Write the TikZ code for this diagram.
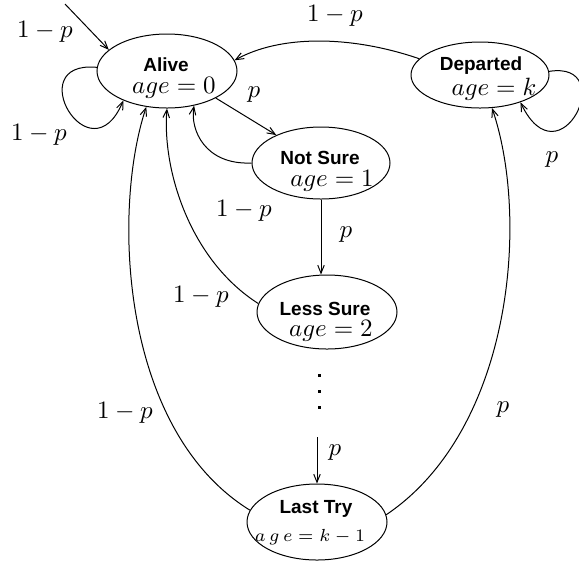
\documentclass[tikz,border=0pt]{standalone}
\usepackage{fontspec}
\newfontfamily\hv{Liberation Sans}
\usetikzlibrary{arrows.meta,shapes.geometric}
\begin{document}
\begin{tikzpicture}[x=0.4pt,y=-0.4pt,
  state/.style={draw,ellipse,inner sep=0pt,line width=0.4pt},
  arr/.style={line width=0.4pt,-{Straight Barb[length=3.2pt,width=2.6pt]}},
  ttl/.style={font=\hv\bfseries\fontsize{7.6}{9}\selectfont,inner sep=0pt},
  lbl/.style={inner sep=0pt}]
\useasboundingbox (0,0) rectangle (579,562);
% states
\node[state,minimum width=56pt,minimum height=29.6pt] (alive) at (167,71) {};
\node[state,minimum width=55.2pt,minimum height=26.4pt] (departed) at (480,75) {};
\node[state,minimum width=55.2pt,minimum height=28.8pt] (notsure) at (321,163) {};
\node[state,minimum width=56pt,minimum height=29.6pt] (lesssure) at (327,312) {};
\node[state,minimum width=56pt,minimum height=30.4pt] (lasttry) at (317,522) {};
% texts inside
\node[ttl] (t1) at (166,65) {Alive};
\node[lbl] (a1) at (174,88) {$age=0$};
\node[ttl] (t2) at (481,66) {Departed};
\node[lbl] (a2) at (494,89) {$age=k$};
\node[ttl] (t3) at (320,158) {Not Sure};
\node[lbl] (a3) at (332,181) {$age=1$};
\node[ttl] (t4) at (325,309) {Less Sure};
\node[lbl] (a4) at (331,331) {$age=2$};
\node[ttl] (t5) at (316,509) {Last Try};
\node[lbl] (a5) at (310,537) {\scriptsize$a\,g\,e=k-1$};
% dots
\foreach \yy in {375,391,407} \fill (317.5,\yy-1.5) rectangle (320.5,\yy+1.5);
% connectors
\coordinate (start) at (65,4);
\draw[arr] (start) -- (alive.160);
\draw[arr] (alive.177) .. controls (20,60) and (90,180) .. (alive.214);
\draw[arr] (alive.-29) -- (notsure.148);
\draw[arr] (notsure) -- (notsure |- lesssure.north);
\draw[arr] (notsure.180) .. controls (205,165) and (190,130) .. (alive.-52);
\draw[arr] (lesssure.173) .. controls (190,260) and (162,170) .. (alive.-90);
\draw[arr] (lasttry.170) .. controls (120,430) and (112,210) .. (alive.-120);
\draw[arr] (departed.165) .. controls (350,35) and (280,35) .. (alive.9);
\draw[arr] (departed.3) .. controls (620,60) and (560,185) .. (departed.-34);
\draw[arr] (lasttry.6) .. controls (512,430) and (530,220) .. (departed.-70);
\coordinate (dotend) at (317,437);
\draw[arr] (dotend) -- (lasttry.north);
% labels
\node[lbl] (l1) at (45,32) {$1-p$};
\node[lbl] (l2) at (39,135) {$1-p$};
\node[lbl] (l3) at (254,95) {$p$};
\node[lbl] (l4) at (335,16) {$1-p$};
\node[lbl] (l5) at (244,211) {$1-p$};
\node[lbl] (l6) at (346,235) {$p$};
\node[lbl] (l7) at (201,297) {$1-p$};
\node[lbl] (l8) at (125,413) {$1-p$};
\node[lbl] (l9) at (335,453) {$p$};
\node[lbl] (l10) at (503,410) {$p$};
\node[lbl] (l11) at (552,160) {$p$};
\end{tikzpicture}
\end{document}
